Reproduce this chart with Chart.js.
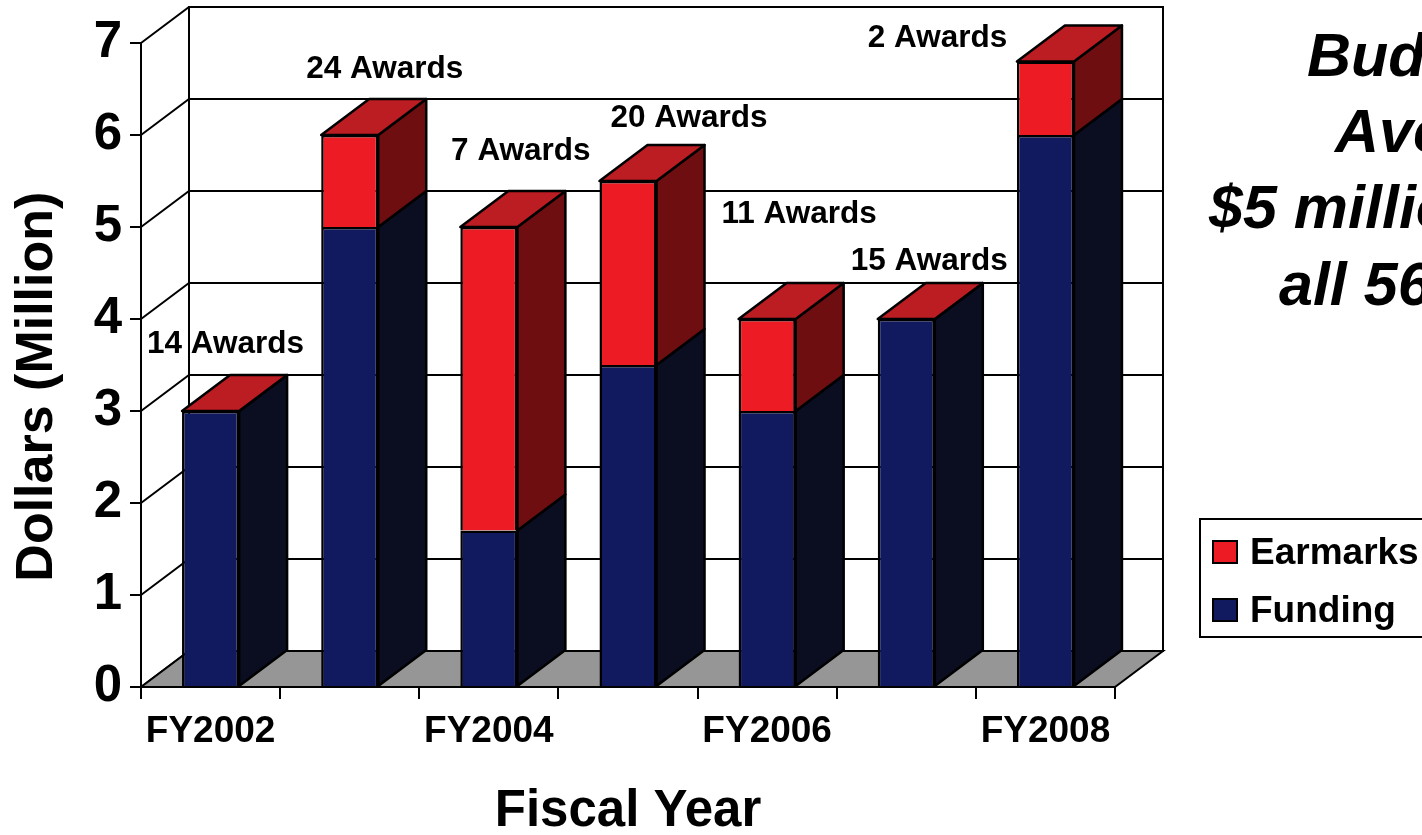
<!DOCTYPE html>
<html>
<head>
<meta charset="utf-8">
<title>Funding and Earmarks by Fiscal Year</title>
<script src="https://cdn.jsdelivr.net/npm/chart.js@4.4.1/dist/chart.umd.min.js"></script>
<style>
  html, body { margin: 0; padding: 0; background: #fff; }
  #wrap { position: relative; width: 1422px; height: 835px; overflow: hidden; }
</style>
</head>
<body>
<div id="wrap"><canvas id="chart" width="1422" height="835"></canvas></div>
<script>
// === Data (millions of dollars) ===
const years = ['FY2002', 'FY2003', 'FY2004', 'FY2005', 'FY2006', 'FY2007', 'FY2008'];
const funding = [3, 5, 1.7, 3.5, 3, 4, 6];
const earmarks = [0, 1, 3.3, 2, 1, 0, 0.8];
const awards = [14, 24, 7, 20, 11, 15, 2];
const yTicks = [0, 1, 2, 3, 4, 5, 6, 7];
const sideNote = ['Budget', 'Average', '$5 million for', 'all 56 States'];

// === Layout / style ===
const FONT = '"Liberation Sans", Arial, Helvetica, sans-serif';
const DEPTH_X = 48;   // how far the "3D" depth goes right
const DEPTH_Y = -36;  // ...and up
const FLOOR = '#969696';

// where each "N Awards" note sits, relative to the front top centre of its bar
const awardOffsets = [[15, -58], [35, -57], [32, -67], [61, -54], [32, -96], [23, -49], [-108, -14]];
// left edge / baseline of each line of the note on the right
const notePos = [[1307, 76], [1335, 152], [1209, 228], [1279, 305]];

// === Helpers ===

function poly(ctx, pts, fill) {
    ctx.beginPath();
    ctx.moveTo(pts[0][0], pts[0][1]);
    for (let i = 1; i < pts.length; i++) ctx.lineTo(pts[i][0], pts[i][1]);
    ctx.closePath();
    ctx.fillStyle = fill;
    ctx.fill();
    ctx.stroke();
}

function drawWalls(chart) {
    const { ctx, chartArea: a, scales: { y } } = chart;
    ctx.save();
    ctx.lineWidth = 2;
    ctx.strokeStyle = '#000';

    // back wall
    ctx.strokeRect(a.left + DEPTH_X, a.top + DEPTH_Y, a.right - a.left, a.bottom - a.top);

    // grid lines: along the side wall, then across the back wall
    y.ticks.forEach(t => {
        const py = y.getPixelForValue(t.value);
        ctx.beginPath();
        ctx.moveTo(a.left, py);
        ctx.lineTo(a.left + DEPTH_X, py + DEPTH_Y);
        ctx.lineTo(a.right + DEPTH_X, py + DEPTH_Y);
        ctx.stroke();
    });

    // floor
    poly(ctx, [
        [a.left, a.bottom],
        [a.left + DEPTH_X, a.bottom + DEPTH_Y],
        [a.right + DEPTH_X, a.bottom + DEPTH_Y],
        [a.right, a.bottom]
    ], FLOOR);
    ctx.restore();
}

function drawBarDepth(chart) {
    const { ctx } = chart;
    const last = chart.data.datasets.length - 1;
    ctx.save();
    ctx.lineWidth = 2.5;
    ctx.strokeStyle = '#000';
    ctx.lineJoin = 'round';
    chart.data.datasets.forEach((ds, di) => {
        const meta = chart.getDatasetMeta(di);
        meta.data.forEach(bar => {
            const { x, y, base, width } = bar.getProps(['x', 'y', 'base', 'width'], true);
            const l = x - width / 2;
            const r = x + width / 2;
            // side face
            poly(ctx, [[r, y], [r + DEPTH_X, y + DEPTH_Y], [r + DEPTH_X, base + DEPTH_Y], [r, base]], ds.sideColor);
            // top face only on the top of the stack
            if (di === last) {
                poly(ctx, [[l, y], [l + DEPTH_X, y + DEPTH_Y], [r + DEPTH_X, y + DEPTH_Y], [r, y]], ds.topColor);
            }
        });
    });
    ctx.restore();
}

function drawAwardNotes(chart) {
    const { ctx } = chart;
    const meta = chart.getDatasetMeta(chart.data.datasets.length - 1);
    ctx.save();
    ctx.font = 'bold 31.5px ' + FONT;
    ctx.fillStyle = '#000';
    ctx.textAlign = 'center';
    ctx.textBaseline = 'alphabetic';
    meta.data.forEach((bar, i) => {
        const [ox, oy] = awardOffsets[i];
        ctx.fillText(awards[i] + ' Awards', bar.x + ox, bar.y + oy);
    });
    ctx.restore();
}

function drawLegend(chart) {
    const { ctx } = chart;
    const items = chart.data.datasets.slice().reverse();
    ctx.save();
    ctx.lineWidth = 2;
    ctx.strokeStyle = '#000';
    ctx.fillStyle = '#fff';
    ctx.fillRect(1200, 519, 240, 118);
    ctx.strokeRect(1200, 519, 240, 118);

    ctx.font = 'bold 37px ' + FONT;
    ctx.textBaseline = 'alphabetic';
    items.forEach((ds, i) => {
        const top = 541 + i * 58;
        ctx.fillStyle = ds.backgroundColor;
        ctx.fillRect(1213, top, 24, 22);
        ctx.strokeRect(1213, top, 24, 22);
        ctx.fillStyle = '#000';
        ctx.fillText(ds.label, 1250, top + 23);
    });
    ctx.restore();
}

function drawSideNote(chart) {
    const { ctx } = chart;
    ctx.save();
    ctx.font = 'italic bold 61px ' + FONT;
    ctx.fillStyle = '#000';
    ctx.textAlign = 'left';
    ctx.textBaseline = 'alphabetic';
    sideNote.forEach((line, i) => {
        ctx.fillText(line, notePos[i][0], notePos[i][1]);
    });
    ctx.restore();
}

const threeD = {
    id: 'threeD',
    beforeDraw: drawWalls,
    afterDatasetsDraw(chart) {
        drawBarDepth(chart);
        drawAwardNotes(chart);
    },
    afterDraw(chart) {
        drawLegend(chart);
        drawSideNote(chart);
    }
};

// === Chart ===

const ctx = document.getElementById('chart').getContext('2d');

new Chart(ctx, {
    type: 'bar',
    data: {
        labels: years,
        datasets: [
            {
                label: 'Funding',
                data: funding,
                backgroundColor: '#111A5E',
                sideColor: '#0B0D21',
                topColor: '#1A2470',
                borderColor: '#000',
                borderWidth: 2.5,
                borderSkipped: 'start'
            },
            {
                label: 'Earmarks',
                data: earmarks,
                backgroundColor: '#ED1C24',
                sideColor: '#6E0E10',
                topColor: '#BC1D23',
                borderColor: '#000',
                borderWidth: 2.5,
                borderSkipped: 'start'
            }
        ]
    },
    options: {
        responsive: false,
        animation: false,
        events: [],
        categoryPercentage: 0.41,
        barPercentage: 1,
        layout: {
            padding: { left: 0, top: 43, right: 307, bottom: 0 }
        },
        plugins: {
            legend: { display: false },
            tooltip: { enabled: false }
        },
        scales: {
            x: {
                stacked: true,
                afterFit(scale) { scale.height = 148; },
                grid: {
                    drawOnChartArea: false,
                    drawTicks: true,
                    tickLength: 12,
                    color: '#000',
                    lineWidth: 2
                },
                border: { display: true, color: '#000', width: 2 },
                ticks: {
                    autoSkip: false,
                    maxRotation: 0,
                    padding: 11,
                    color: '#000',
                    font: { family: FONT, size: 37, weight: 'bold' },
                    callback: (v, i) => (i % 2 === 0 ? years[i] : '')
                },
                title: {
                    display: true,
                    text: 'Fiscal Year',
                    color: '#000',
                    padding: { top: 0, bottom: 0 },
                    font: { family: FONT, size: 51, weight: 'bold', lineHeight: 0.9 }
                }
            },
            y: {
                stacked: true,
                min: 0,
                max: 7,
                afterFit(scale) { scale.width = 141; },
                afterBuildTicks(scale) {
                    scale.ticks = yTicks.map(v => ({ value: v }));
                },
                grid: {
                    drawOnChartArea: false,
                    drawTicks: true,
                    tickLength: 11,
                    color: '#000',
                    lineWidth: 2
                },
                border: { display: true, color: '#000', width: 2 },
                ticks: {
                    padding: 8,
                    color: '#000',
                    font: { family: FONT, size: 51, weight: 'bold' }
                },
                title: {
                    display: true,
                    // trailing spaces nudge the rotated title a little lower, as in the original
                    text: 'Dollars (Million)   ',
                    color: '#000',
                    padding: { top: 6, bottom: 0 },
                    font: { family: FONT, size: 52, weight: 'bold' }
                }
            }
        }
    },
    plugins: [threeD]
});
</script>
</body>
</html>
